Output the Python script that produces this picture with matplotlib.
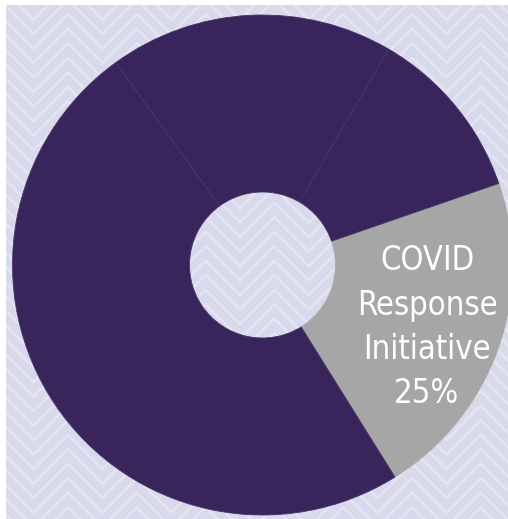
import matplotlib.pyplot as plt
from matplotlib.patches import Rectangle
import numpy as np

# slice shares (counterclockwise from the grey slice)
labels = ["COVID Response Initiative", "Other A", "Other B", "Other C"]
shares = [21.4, 11.3, 18.4, 48.9]
colours = ["#a6a6a6", "#39255c", "#39255c", "#39255c"]
label_lines = ["COVID", "Response", "Initiative", "25%"]

W, H = 508, 519

fig = plt.figure(figsize=(W / 100, H / 100), dpi=100)
fig.patch.set_facecolor("white")
ax = fig.add_axes([0, 0, 1, 1])

# lavender background with chevron pattern
bg = Rectangle((6, 0), W - 6, H - 5, facecolor="#d8d9eb", edgecolor="none", zorder=0)
ax.add_patch(bg)

period = 68.8
x0 = 68
idx = np.arange(-2, 18)
xs = x0 + idx * period / 2
offs = np.where(idx % 2 == 0, 0, period / 2)
for k in range(-25, 40):
  apex = 231.7 + k * 14.5
  ys = H - (apex + offs)
  ln, = ax.plot(xs, ys, color="#e5e5f3", lw=1.6, zorder=1, solid_capstyle="butt")
  ln.set_clip_path(bg)

cx, cy = 262.5, H - 265
wedges, _ = ax.pie(shares, colors=colours, startangle=-58, counterclock=True,
                   center=(cx, cy), radius=250, frame=True,
                   wedgeprops=dict(width=177, linewidth=0.6, edgecolor="#463469"))
wedges[0].set_edgecolor("#a6a6a6")
for w in wedges:
  w.set_zorder(2)
ax.set_xlim(0, W)
ax.set_ylim(0, H)
ax.set_aspect("equal")
ax.axis("off")

# label, one line at a time (baselines in picture pixels)
baselines = [270, 315, 359, 403]
for line, b in zip(label_lines, baselines):
  ax.text(427, H - b, line, color="white", ha="center", va="baseline",
          fontsize=23.5, family="DejaVu Sans", fontstretch="condensed", zorder=3)

plt.savefig("out.png", dpi=100, facecolor="white")
